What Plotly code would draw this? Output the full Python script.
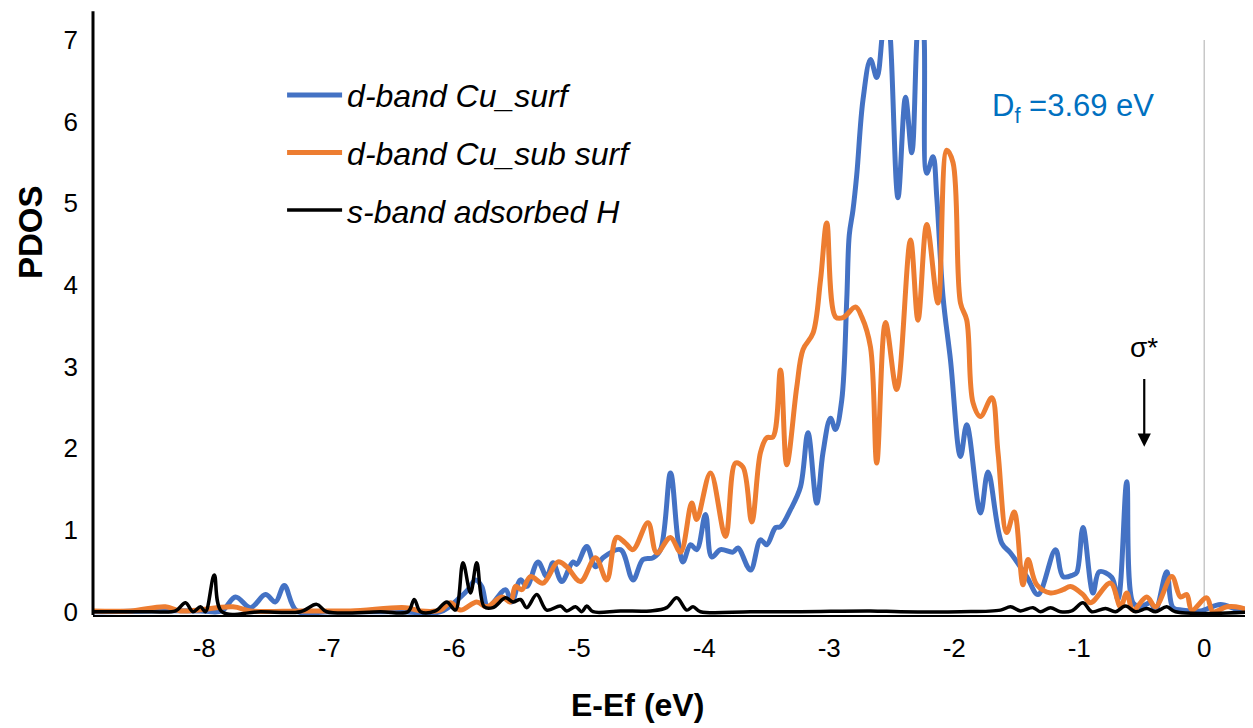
import plotly.graph_objects as go

# ---- data (energy E-Ef in eV, PDOS) ----
e_surf = [-8.89, -8.43, -8.03, -7.86, -7.75, -7.63, -7.51, -7.43, -7.36, -7.26, -6.99, -6.43, -6.11,
          -5.95, -5.89, -5.83, -5.78, -5.73, -5.59, -5.54, -5.47, -5.42, -5.33, -5.26, -5.21, -5.14,
          -5.05, -5.02, -4.94, -4.87, -4.81, -4.67, -4.57, -4.49, -4.41, -4.35, -4.27, -4.21, -4.17,
          -4.11, -4.06, -3.99, -3.94, -3.87, -3.77, -3.73, -3.63, -3.55, -3.50, -3.43, -3.39, -3.31,
          -3.23, -3.17, -3.10, -3.05, -2.99, -2.95, -2.90, -2.86, -2.84, -2.81, -2.78, -2.73, -2.67,
          -2.62, -2.58, -2.55, -2.51, -2.45, -2.39, -2.34, -2.30, -2.27, -2.24, -2.22, -2.17, -2.14,
          -2.09, -2.03, -1.95, -1.90, -1.79, -1.73, -1.62, -1.55, -1.42, -1.33, -1.19, -1.13, -1.05,
          -1.02, -0.97, -0.89, -0.84, -0.74, -0.69, -0.62, -0.57, -0.51, -0.43, -0.39, -0.30, -0.25,
          -0.17, -0.03, 0.13, 0.29, 0.37]
pdos_surf = [0.00, 0.01, 0.01, 0.01, 0.18, 0.05, 0.21, 0.12, 0.32, 0.01, 0.00, 0.00, 0.00,
             0.18, 0.27, 0.39, 0.31, 0.06, 0.27, 0.12, 0.39, 0.31, 0.61, 0.43, 0.60, 0.37,
             0.61, 0.58, 0.80, 0.55, 0.66, 0.76, 0.39, 0.64, 0.66, 0.76, 1.70, 0.88, 0.61,
             0.82, 0.76, 1.19, 0.67, 0.76, 0.73, 0.78, 0.51, 0.88, 0.82, 1.03, 1.04, 1.25,
             1.53, 2.19, 1.33, 1.95, 2.37, 2.23, 2.59, 3.82, 4.61, 4.92, 5.35, 6.27, 6.76,
             6.54, 7.00, 7.74, 7.00, 5.07, 6.30, 5.62, 7.00, 7.74, 7.00, 5.37, 5.57, 5.08,
             3.86, 3.08, 1.90, 2.29, 1.21, 1.71, 0.84, 0.72, 0.43, 0.21, 0.76, 0.43, 0.45,
             0.48, 1.03, 0.23, 0.49, 0.42, 0.15, 1.59, 0.11, 0.06, 0.11, 0.02, 0.49, 0.05,
             0.02, 0.01, 0.09, 0.02, 0.06]

e_sub = [-8.89, -8.59, -8.31, -8.19, -7.77, -7.63, -7.23, -6.83, -6.39, -6.27, -6.11, -6.03, -5.95,
         -5.82, -5.74, -5.62, -5.55, -5.51, -5.46, -5.39, -5.29, -5.17, -5.10, -4.99, -4.87, -4.78,
         -4.70, -4.63, -4.57, -4.45, -4.38, -4.27, -4.19, -4.10, -4.06, -3.95, -3.83, -3.75, -3.69,
         -3.62, -3.55, -3.50, -3.45, -3.39, -3.34, -3.26, -3.21, -3.13, -3.07, -3.02, -2.95, -2.89,
         -2.79, -2.74, -2.67, -2.62, -2.55, -2.46, -2.35, -2.29, -2.22, -2.13, -2.06, -2.01, -1.95,
         -1.90, -1.85, -1.79, -1.70, -1.65, -1.58, -1.52, -1.45, -1.41, -1.34, -1.23, -1.13, -1.07,
         -0.97, -0.91, -0.75, -0.67, -0.62, -0.57, -0.46, -0.39, -0.26, -0.19, -0.14, -0.10, 0.02,
         0.07, 0.18, 0.29, 0.37]
pdos_sub = [0.01, 0.01, 0.06, 0.01, 0.06, 0.01, 0.01, 0.01, 0.05, 0.01, 0.02, 0.11, 0.02,
            0.12, 0.06, 0.18, 0.12, 0.31, 0.27, 0.43, 0.35, 0.61, 0.55, 0.37, 0.66, 0.39,
            0.91, 0.84, 0.76, 1.09, 0.72, 0.91, 0.73, 1.33, 1.13, 1.70, 0.92, 1.82, 1.77,
            1.10, 1.95, 2.13, 2.14, 2.96, 1.80, 2.75, 3.21, 3.41, 4.06, 4.76, 3.61, 3.60,
            3.73, 3.61, 3.24, 1.82, 3.54, 2.72, 4.55, 3.57, 4.74, 3.78, 5.65, 5.50, 3.78,
            3.57, 2.56, 2.39, 2.62, 1.95, 0.97, 1.22, 0.33, 0.64, 0.33, 0.23, 0.27, 0.31,
            0.21, 0.11, 0.35, 0.06, 0.23, 0.02, 0.18, 0.06, 0.43, 0.18, 0.21, 0.02, 0.17,
            0.00, 0.06, 0.05, 0.00]

e_h = [-8.89, -8.43, -8.23, -8.15, -8.09, -8.03, -7.99, -7.92, -7.86, -7.55, -7.23, -7.10, -7.02,
       -6.59, -6.37, -6.32, -6.27, -6.15, -6.06, -5.99, -5.93, -5.87, -5.82, -5.76, -5.69, -5.59,
       -5.53, -5.47, -5.42, -5.34, -5.26, -5.15, -5.10, -5.03, -4.98, -4.94, -4.89, -4.67, -4.43,
       -4.30, -4.22, -4.14, -4.09, -4.03, -3.63, -3.23, -2.67, -2.43, -1.95, -1.63, -1.55, -1.47,
       -1.37, -1.31, -1.23, -1.15, -1.06, -0.97, -0.90, -0.79, -0.71, -0.63, -0.55, -0.46, -0.39,
       -0.30, -0.23, 0.39]
pdos_h = [0.00, 0.00, 0.01, 0.11, 0.00, 0.06, 0.00, 0.45, 0.00, 0.00, 0.00, 0.09, 0.00,
          0.00, 0.00, 0.15, 0.00, 0.01, 0.12, 0.02, 0.60, 0.23, 0.60, 0.06, 0.05, 0.17,
          0.12, 0.15, 0.05, 0.21, 0.02, 0.07, 0.01, 0.06, 0.00, 0.07, 0.00, 0.01, 0.01,
          0.05, 0.17, 0.02, 0.06, 0.00, 0.00, 0.00, 0.01, 0.00, 0.00, 0.02, 0.06, 0.01,
          0.05, 0.00, 0.05, 0.00, 0.01, 0.11, 0.00, 0.04, 0.00, 0.07, 0.00, 0.04, 0.00,
          0.06, 0.00, 0.00]

series_names = ["d-band Cu_surf", "d-band Cu_sub surf", "s-band adsorbed H"]
x_ticks = [-8, -7, -6, -5, -4, -3, -2, -1, 0]
y_ticks = [0, 1, 2, 3, 4, 5, 6, 7]

FONT = "Liberation Sans, Arial, sans-serif"

fig = go.Figure()
fig.add_trace(go.Scatter(x=e_surf, y=pdos_surf, mode="lines", name=series_names[0],
                         legendgroup="a",
                         line=dict(color="#4472C4", width=5, shape="spline", smoothing=1.0)))
fig.add_trace(go.Scatter(x=e_sub, y=pdos_sub, mode="lines", name=series_names[1],
                         legendgroup="b",
                         line=dict(color="#ED7D31", width=5, shape="spline", smoothing=1.0)))
fig.add_trace(go.Scatter(x=e_h, y=pdos_h, mode="lines", name=series_names[2],
                         legendgroup="c",
                         line=dict(color="#000000", width=3.5, shape="spline", smoothing=1.0)))

# Fermi level reference line
fig.add_shape(type="line", xref="x", yref="paper", x0=0, x1=0, y0=0, y1=1,
              line=dict(color="#C8C8C8", width=1.5), layer="below")
# y axis line (extends a bit above the plot area as in the reference)
fig.add_shape(type="line", xref="paper", yref="paper", x0=0, x1=0, y0=0, y1=1.05,
              line=dict(color="#000000", width=3))

fig.add_annotation(x=-1.05, y=6.17, xref="x", yref="y", text="D<sub>f</sub> =3.69 eV",
                   showarrow=False, xanchor="center", yanchor="middle",
                   font=dict(family=FONT, size=31, color="#0070C0"))
# sigma* label with its downward arrow
fig.add_annotation(x=-0.48, y=2.02, xref="x", yref="y",
                   ax=-0.48, ay=3.23, axref="x", ayref="y",
                   text="σ*", showarrow=True, arrowhead=2, arrowsize=1.2, arrowwidth=2.2,
                   arrowcolor="#000000", startstandoff=14,
                   font=dict(family=FONT, size=28, color="#000000"))
fig.add_annotation(x=(30 - 93) / 1160, y=1 - (232 - 40) / 575, xref="paper", yref="paper",
                   text="<b>PDOS</b>", textangle=-90, showarrow=False,
                   xanchor="center", yanchor="middle",
                   font=dict(family=FONT, size=33, color="#000000"))
fig.add_annotation(x=(637 - 93) / 1160, y=1 - (705 - 40) / 575, xref="paper", yref="paper",
                   text="<b>E-Ef (eV)</b>", showarrow=False,
                   xanchor="center", yanchor="middle",
                   font=dict(family=FONT, size=32, color="#000000"))

# the page body has an 8 px offset, so the figure is made 8 px smaller
fig.update_layout(
    width=1245, height=720,
    margin=dict(l=85, r=0, t=32, b=113),
    paper_bgcolor="white", plot_bgcolor="white",
    showlegend=True,
    legend=dict(x=0.163, y=0.952, xanchor="left", yanchor="top",
                bgcolor="rgba(0,0,0,0)", tracegroupgap=13, itemwidth=55,
                font=dict(family=FONT, size=32, color="#000000", style="italic")),
    xaxis=dict(range=[-8.89, 0.39], tickvals=x_ticks, ticktext=[str(v) for v in x_ticks],
               showgrid=False, zeroline=False,
               showline=True, linecolor="#000000", linewidth=2,
               ticks="outside", ticklen=9, tickcolor="rgba(0,0,0,0)",
               tickfont=dict(family=FONT, size=26, color="#000000")),
    yaxis=dict(range=[-0.04, 7.0], tickvals=y_ticks, showgrid=False, zeroline=False,
               showline=False, ticks="", ticklabelstandoff=14,
               tickfont=dict(family=FONT, size=26, color="#000000")),
)

fig.write_html("out.html")
